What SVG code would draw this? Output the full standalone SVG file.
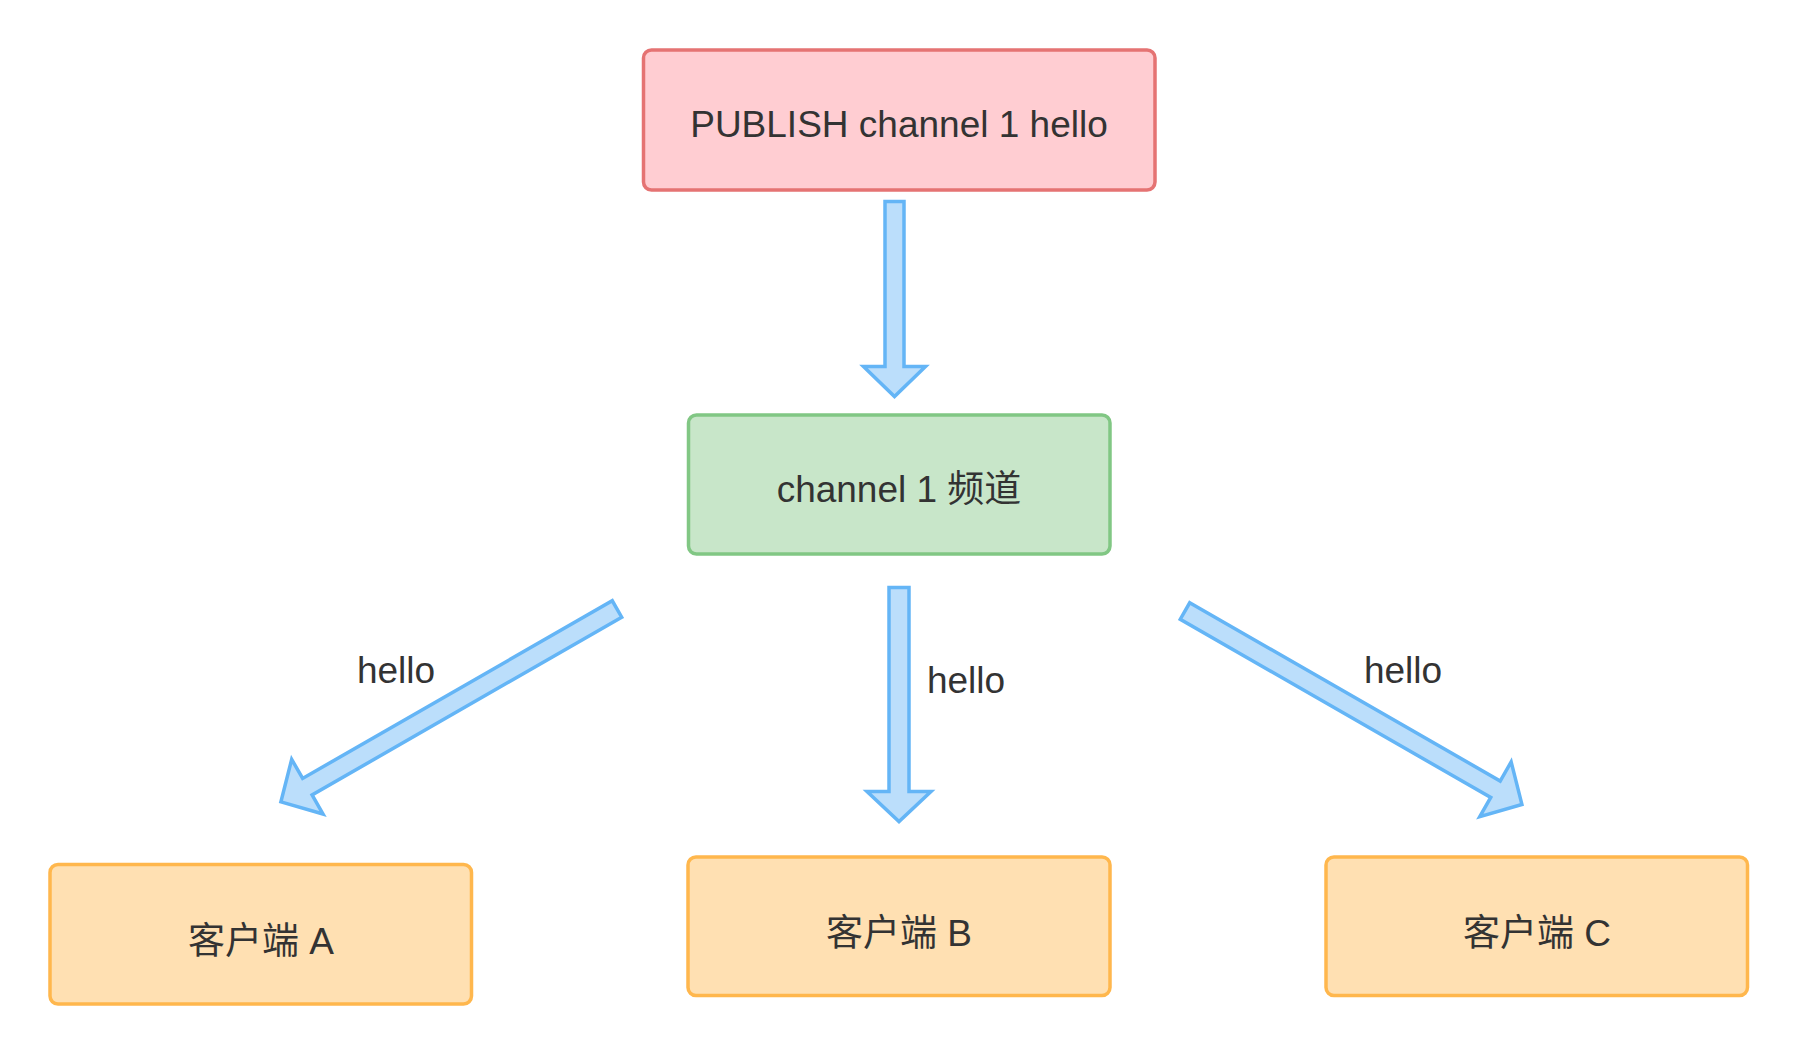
<svg xmlns="http://www.w3.org/2000/svg" width="1797" height="1054" viewBox="0 0 1797 1054">
<style>
.t{font-family:"Liberation Sans",Arial,"Noto Sans CJK SC",sans-serif;font-size:37px;fill:#333333;text-anchor:middle}
.arrow{fill:#BBDEFB;stroke:#64B5F6;stroke-width:3.5;stroke-linejoin:miter}
.red{fill:#FFCDD2;stroke:#E57373;stroke-width:3.5}
.green{fill:#C8E6C9;stroke:#81C784;stroke-width:3.5}
.orange{fill:#FFE0B2;stroke:#FFB74D;stroke-width:3.5}
</style>
<rect width="1797" height="1054" fill="#ffffff"/>
<g id="connectors">
<g id="arrow-publish-channel" transform="translate(894.5,201.5) rotate(90)">
<polygon class="arrow" points="0,-9.5 165,-9.5 165,-31 195,0 165,31 165,9.5 0,9.5"/>
</g>
<g id="arrow-channel-b" transform="translate(899,587.5) rotate(90)">
<polygon class="arrow" points="0,-10 204,-10 204,-32 234,0 204,32 204,10 0,10"/>
</g>
<g id="arrow-channel-a" transform="translate(617,609) rotate(150.15)">
<polygon class="arrow" points="0,-9.5 357,-9.5 357,-31.5 387.5,0 357,31.5 357,9.5 0,9.5"/>
</g>
<g id="arrow-channel-c" transform="translate(1185,611) rotate(29.86)">
<polygon class="arrow" points="0,-9.5 358,-9.5 358,-31.5 388.5,0 358,31.5 358,9.5 0,9.5"/>
</g>
<text class="t" x="396" y="683">hello</text>
<text class="t" x="966" y="693">hello</text>
<text class="t" x="1403" y="683">hello</text>
</g>
<g id="node-publish">
<rect class="red" x="643.5" y="50" width="511.5" height="140" rx="8"/>
<text class="t" x="899" y="137">PUBLISH channel 1 hello</text>
</g>
<g id="node-channel">
<rect class="green" x="688.5" y="415" width="421.5" height="139" rx="8"/>
<text class="t" x="899" y="502">channel 1 频道</text>
</g>
<g id="node-client-a">
<rect class="orange" x="50" y="864.5" width="421.5" height="139.5" rx="8"/>
<text class="t" x="261" y="954">客户端 A</text>
</g>
<g id="node-client-b">
<rect class="orange" x="688" y="857" width="422" height="138.5" rx="8"/>
<text class="t" x="899" y="946">客户端 B</text>
</g>
<g id="node-client-c">
<rect class="orange" x="1326" y="857" width="421.5" height="138.5" rx="8"/>
<text class="t" x="1537" y="946">客户端 C</text>
</g>
</svg>
